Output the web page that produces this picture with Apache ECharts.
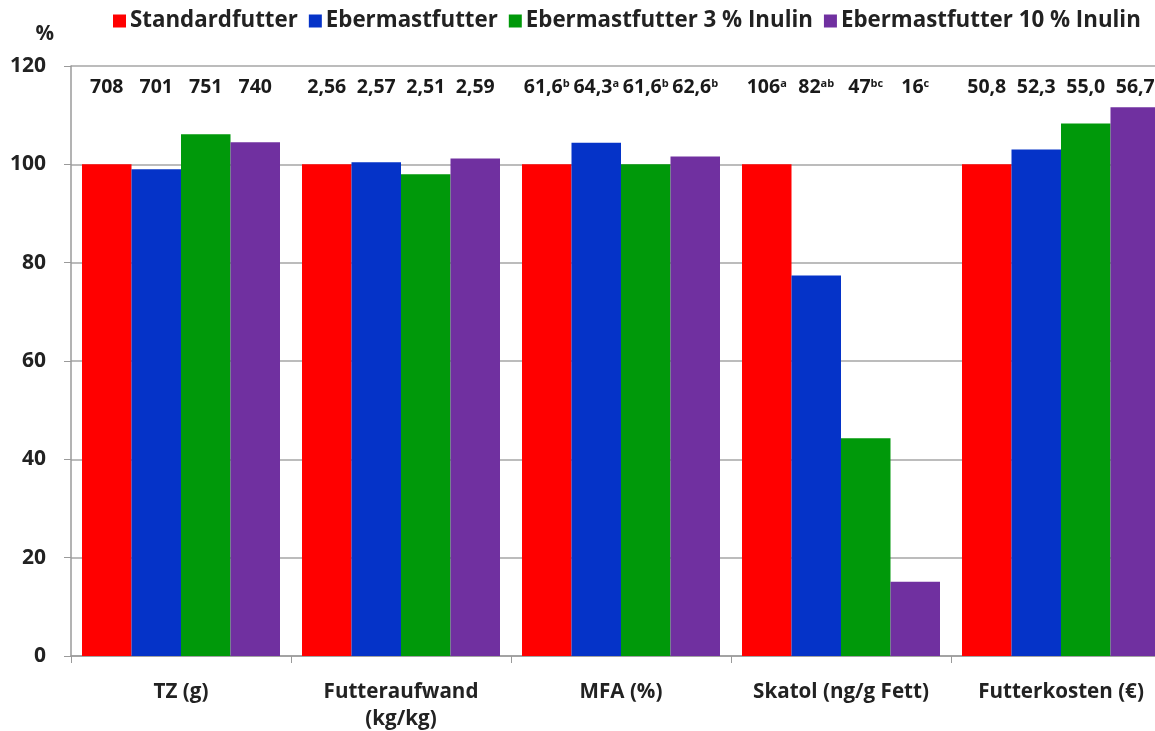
<!DOCTYPE html>
<html>
<head>
<meta charset="utf-8">
<script src="https://cdn.jsdelivr.net/npm/echarts@6/dist/echarts.min.js"></script>
<style>
  html, body { margin: 0; padding: 0; background: #fff; overflow: hidden; }
  #chart { width: 1155px; height: 731px; }
</style>
</head>
<body>
<div id="chart"></div>
<script>
// Merkmale (Kategorien der x-Achse)
const categories = ['TZ (g)', 'Futteraufwand\n(kg/kg)', 'MFA (%)', 'Skatol (ng/g Fett)', 'Futterkosten (€)'];

// Fütterungsgruppen
const seriesNames = ['Standardfutter', 'Ebermastfutter', 'Ebermastfutter 3 % Inulin', 'Ebermastfutter 10 % Inulin'];

// Relativwerte in % (Standardfutter = 100)
const standardfutter = [100, 100, 100, 100, 100];
const ebermastfutter = [99.0, 100.4, 104.4, 77.4, 103.0];
const inulin3 = [106.1, 98.0, 100.0, 44.3, 108.3];
const inulin10 = [104.5, 101.2, 101.6, 15.1, 111.6];

// Absolutwerte über den Balken ({s|..} = Signifikanz-Hochzeichen)
const absStandard = ['708', '2,56', '61,6{s|b}', '106{s|a}', '50,8'];
const absEber = ['701', '2,57', '64,3{s|a}', '82{s|ab}', '52,3'];
const absInulin3 = ['751', '2,51', '61,6{s|b}', '47{s|bc}', '55,0'];
const absInulin10 = ['740', '2,59', '62,6{s|b}', '16{s|c}', '56,7'];

// y-Achse
const yMin = 0, yMax = 120, yStep = 20;
const labelLevel = 115.7;

const colors = ['#FF0000', '#0533C8', '#00990A', '#7030A0'];
const FONT = '"Open Sans", Lato, sans-serif';
const FS = 19.5;

const valueSets = [standardfutter, ebermastfutter, inulin3, inulin10];
const absSets = [absStandard, absEber, absInulin3, absInulin10];
const barCatGap = 0.1;

const barSeries = seriesNames.map((name, i) => ({
  name: name,
  type: 'bar',
  data: valueSets[i],
  barGap: '0%',
  barCategoryGap: (barCatGap * 100) + '%',
  itemStyle: { color: colors[i] },
  z: 2
}));

// Beschriftungen der Absolutwerte als Textreihe
const labelData = [];
absSets.forEach((arr, si) => arr.forEach((txt, ci) => labelData.push([ci, labelLevel, si, txt])));

const labelSeries = {
  type: 'custom',
  silent: true,
  data: labelData,
  encode: { x: 0, y: 1 },
  z: 5,
  renderItem: function (params, api) {
    const ci = api.value(0);
    const si = api.value(2);
    const txt = labelData[params.dataIndex][3];
    const pt = api.coord([ci, api.value(1)]);
    const catW = api.size([1, 0])[0];
    const bw = catW * (1 - barCatGap) / 4;
    const x = pt[0] + (si - 1.5) * bw;
    return {
      type: 'text',
      x: x,
      y: pt[1],
      style: {
        text: txt,
        align: 'center',
        verticalAlign: 'middle',
        fill: '#1a1a1a',
        font: 'bold ' + FS + 'px ' + FONT,
        rich: {
          s: { fontSize: 11, fontWeight: 'bold', fontFamily: FONT, verticalAlign: 'top', fill: '#1a1a1a', padding: [1, 0, 0, 0] }
        }
      }
    };
  }
};

const chart = echarts.init(document.getElementById('chart'));
chart.setOption({
  animation: false,
  backgroundColor: '#ffffff',
  textStyle: { fontFamily: FONT },
  legend: {
    data: seriesNames,
    top: 5,
    left: 108,
    itemWidth: 13,
    itemHeight: 13,
    itemGap: 11,
    icon: 'rect',
    textStyle: { fontSize: 22.3, fontWeight: 'bold', color: '#222', fontFamily: FONT, padding: [0, 0, 0, -1] }
  },
  grid: { left: 71, width: 1100, top: 66, bottom: 75, containLabel: false, outerBoundsMode: 'none' },
  xAxis: {
    type: 'category',
    data: categories,
    axisLine: { lineStyle: { color: '#9a9a9a', width: 1.5 } },
    axisTick: { show: true, interval: 0, length: 7, lineStyle: { color: '#9a9a9a' } },
    axisLabel: { interval: 0, fontSize: 20.6, fontWeight: 'bold', color: '#222', margin: 23, lineHeight: 27, fontFamily: FONT }
  },
  yAxis: {
    type: 'value',
    min: yMin,
    max: yMax,
    interval: yStep,
    name: '%',
    nameLocation: 'end',
    nameGap: 21,
    nameTextStyle: { fontSize: 20.6, fontWeight: 'bold', color: '#222', align: 'right', padding: [0, 17, 0, 0], fontFamily: FONT },
    axisLine: { show: true, lineStyle: { color: '#9a9a9a', width: 1.5 } },
    axisTick: { show: true, length: 7, lineStyle: { color: '#9a9a9a' } },
    axisLabel: { fontSize: 21, fontWeight: 'bold', color: '#222', margin: 25, fontFamily: FONT },
    splitLine: { show: true, lineStyle: { color: '#a6a6a6', width: 1.5 } }
  },
  series: barSeries.concat([labelSeries])
});
</script>
</body>
</html>
